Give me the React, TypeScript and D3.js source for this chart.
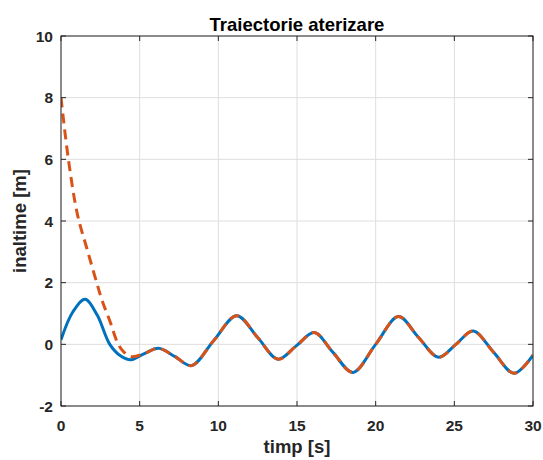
import React from "react";
import * as d3 from "d3";

const title = "Traiectorie aterizare";
const xLabel = "timp [s]";
const yLabel = "inaltime [m]";
const xTicks = [0, 5, 10, 15, 20, 25, 30];
const yTicks = [-2, 0, 2, 4, 6, 8, 10];

// real trajectory (solid blue)
const blueT = [0, 0.75, 1.53, 2.3, 3.1, 3.8, 4.45, 5.3, 6.2, 7.25, 8.3, 9.7, 11.17, 12.5, 13.8, 14.95, 16.1, 17.3, 18.55, 20.0, 21.45, 22.7, 24.0, 25.1, 26.2, 27.5, 28.8, 30];
const blueV = [0.15, 1.05, 1.46, 0.95, 0.0, -0.38, -0.5, -0.3, -0.13, -0.4, -0.69, 0.12, 0.93, 0.22, -0.48, -0.05, 0.38, -0.27, -0.91, 0.0, 0.9, 0.24, -0.42, 0.0, 0.43, -0.26, -0.94, -0.35];

// estimated / reference trajectory (dashed red)
const redT = [0, 0.47, 1.05, 1.65, 2.27, 2.6, 3.11, 3.64, 4.0, 4.5, 5.3, 6.2, 7.25, 8.3, 9.7, 11.17, 12.5, 13.8, 14.95, 16.1, 17.3, 18.55, 20.0, 21.45, 22.7, 24.0, 25.1, 26.2, 27.5, 28.8, 30];
const redV = [8.0, 6.0, 4.2, 3.1, 2.0, 1.44, 0.75, 0.0, -0.25, -0.4, -0.3, -0.13, -0.4, -0.69, 0.12, 0.93, 0.22, -0.48, -0.05, 0.38, -0.27, -0.91, 0.0, 0.9, 0.24, -0.42, 0.0, 0.43, -0.26, -0.94, -0.35];

const W = 543;
const H = 460;
const L = 61, R = 533, T = 36, B = 406;
const FONT = "'Liberation Sans', Arial, Helvetica, sans-serif";

export default function App() {
  const x = d3.scaleLinear().domain([0, 30]).range([L, R]);
  const y = d3.scaleLinear().domain([-2, 10]).range([B, T]);
  const line = d3
    .line<[number, number]>()
    .x((d) => x(d[0]))
    .y((d) => y(d[1]))
    .curve(d3.curveCatmullRom.alpha(0.5));
  const blue = blueT.map((t, i) => [t, blueV[i]] as [number, number]);
  const red = redT.map((t, i) => [t, redV[i]] as [number, number]);
  const tl = 5;
  return (
    <svg width={W} height={H} style={{ position: "absolute", left: 0, top: 0, background: "#fff" }}>
      <rect x={0} y={0} width={W} height={H} fill="#fff" />
      <defs>
        <clipPath id="clip">
          <rect x={L} y={T} width={R - L} height={B - T} />
        </clipPath>
      </defs>
      {xTicks.map((t) => (
        <line key={"gx" + t} x1={x(t)} x2={x(t)} y1={T} y2={B} stroke="#dedede" strokeWidth={1} />
      ))}
      {yTicks.map((t) => (
        <line key={"gy" + t} x1={L} x2={R} y1={y(t)} y2={y(t)} stroke="#dedede" strokeWidth={1} />
      ))}
      <g clipPath="url(#clip)">
        <path d={line(blue) || ""} fill="none" stroke="#0072BD" strokeWidth={3} />
        <path d={line(red) || ""} fill="none" stroke="#D95319" strokeWidth={3} strokeDasharray="10,6" />
      </g>
      <rect x={L} y={T} width={R - L} height={B - T} fill="none" stroke="#262626" strokeWidth={1} />
      {xTicks.map((t) => (
        <g key={"tx" + t}>
          <line x1={x(t)} x2={x(t)} y1={B} y2={B - tl} stroke="#262626" />
          <line x1={x(t)} x2={x(t)} y1={T} y2={T + tl} stroke="#262626" />
          <text x={x(t)} y={431} textAnchor="middle" fontFamily={FONT} fontWeight="bold" fontSize={15.5} fill="#262626">
            {t}
          </text>
        </g>
      ))}
      {yTicks.map((t) => (
        <g key={"ty" + t}>
          <line x1={L} x2={L + tl} y1={y(t)} y2={y(t)} stroke="#262626" />
          <line x1={R} x2={R - tl} y1={y(t)} y2={y(t)} stroke="#262626" />
          <text x={53} y={y(t)} dy="0.36em" textAnchor="end" fontFamily={FONT} fontWeight="bold" fontSize={15.5} fill="#262626">
            {t}
          </text>
        </g>
      ))}
      <text x={(L + R) / 2} y={31} textAnchor="middle" fontFamily={FONT} fontWeight="bold" fontSize={18.5} fill="#000">
        {title}
      </text>
      <text x={(L + R) / 2} y={453} textAnchor="middle" fontFamily={FONT} fontWeight="bold" fontSize={18.5} fill="#262626">
        {xLabel}
      </text>
      <text
        transform={`translate(26,${(T + B) / 2}) rotate(-90)`}
        textAnchor="middle"
        fontFamily={FONT}
        fontWeight="bold"
        fontSize={18.5}
        fill="#262626"
      >
        {yLabel}
      </text>
    </svg>
  );
}
